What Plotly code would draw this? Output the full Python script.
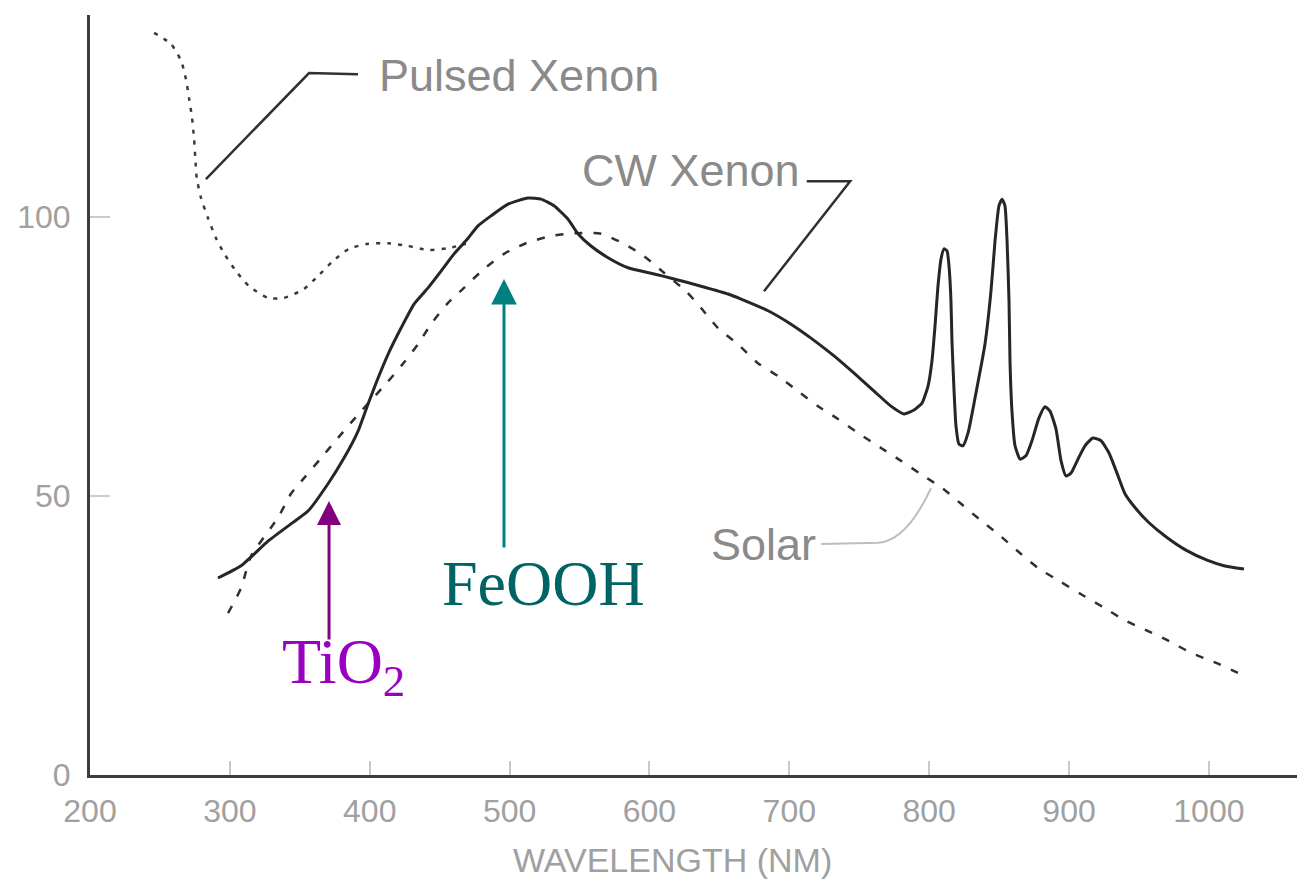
import plotly.graph_objects as go

# ---------------- data (wavelength nm, relative intensity) ----------------
cw_x = [291.5, 308.0, 327.3, 343.7, 355.9, 370.2, 381.6, 391.6, 398.8, 405.9,
        413.1, 422.4, 431.7, 441.7, 451.0, 460.3, 470.3, 477.4, 486.7, 498.9,
        513.2, 522.5, 531.8, 541.8, 548.9, 558.2, 570.4, 584.7, 603.3, 617.6,
        636.9, 656.2, 665.5, 684.8, 701.2, 715.5, 732.0, 746.3, 760.6, 772.7,
        782.0, 789.2, 795.0, 799.2, 802.0, 804.2, 806.3, 808.5, 810.6, 812.8,
        814.2, 815.6, 816.3, 817.8, 819.2, 821.3, 824.2, 827.8, 833.5, 839.9,
        844.2, 847.1, 849.9, 852.1, 854.2, 855.7, 857.1, 857.8, 859.2, 861.4,
        865.0, 869.2, 873.5, 878.5, 882.8, 886.4, 890.7, 894.3, 897.8, 901.4,
        906.4, 911.4, 917.1, 922.9, 928.6, 934.3, 940.0, 947.9, 957.2, 969.3,
        983.6, 998.7, 1010.8, 1025.1]
cw_y = [35.3, 37.5, 41.9, 45.0, 47.3, 52.2, 56.8, 61.6, 66.5, 71.1,
        75.4, 80.1, 84.4, 87.3, 90.3, 93.4, 96.2, 98.4, 100.2, 102.3,
        103.4, 103.2, 102.0, 99.6, 97.0, 94.8, 92.7, 90.9, 89.8, 88.9,
        87.6, 86.2, 85.3, 83.2, 80.8, 78.3, 75.1, 72.0, 68.8, 66.1,
        64.7, 65.4, 66.7, 69.7, 74.2, 80.5, 87.6, 92.5, 94.3, 93.9,
        91.2, 84.9, 77.8, 68.8, 62.5, 59.3, 59.0, 61.3, 68.5, 77.2,
        86.7, 95.7, 102.0, 103.2, 102.0, 95.7, 84.9, 74.2, 65.2, 59.0,
        56.6, 57.2, 59.9, 64.0, 66.0, 65.2, 62.0, 56.3, 53.6, 54.1,
        56.6, 59.0, 60.4, 59.9, 57.7, 54.1, 50.4, 47.7, 45.2, 42.7,
        40.3, 38.5, 37.5, 36.9]

solar_x = [298.7, 308.0, 315.1, 334.4, 343.7, 353.0, 365.2, 377.3, 393.8, 411.6,
           423.8, 434.5, 443.8, 456.0, 467.4, 481.7, 496.0, 511.7, 529.6, 547.5,
           565.4, 581.8, 596.1, 610.4, 626.1, 636.9, 649.0, 663.3, 677.6, 691.9,
           706.2, 720.5, 734.8, 749.1, 765.6, 779.9, 794.2, 809.9, 822.8, 835.6,
           849.2, 865.7, 877.8, 892.8, 908.6, 924.3, 939.3, 956.5, 971.5, 987.2,
           1005.1, 1020.8]
solar_y = [29.0, 33.5, 39.2, 46.1, 50.4, 53.2, 56.8, 60.4, 65.2, 70.1,
           73.7, 77.2, 80.8, 84.6, 87.3, 90.7, 93.4, 95.3, 96.6, 97.1,
           97.0, 95.2, 93.0, 90.0, 86.7, 83.7, 80.1, 77.2, 73.8, 71.5,
           68.8, 66.1, 63.8, 61.3, 58.6, 56.3, 53.9, 51.3, 48.6, 45.9,
           43.2, 39.6, 37.1, 34.8, 32.4, 30.1, 27.8, 25.8, 24.0, 21.9,
           20.1, 18.3]

pulsed_x = [245.8, 257.9, 265.1, 268.6, 270.8, 273.0, 274.4, 275.3, 276.3, 279.4,
            284.4, 290.1, 295.8, 304.4, 313.7, 327.3, 338.7, 353.0, 363.0, 373.7,
            385.2, 398.8, 413.1, 427.4, 441.7, 456.0, 468.8]
pulsed_y = [133.0, 131.0, 128.0, 124.7, 121.3, 117.7, 114.0, 110.6, 107.0, 103.4,
            99.8, 96.2, 93.5, 90.3, 87.6, 85.5, 85.5, 87.1, 89.4, 92.1,
            94.3, 95.2, 95.3, 94.8, 94.1, 94.4, 95.2]

x_ticks = [200, 300, 400, 500, 600, 700, 800, 900, 1000]
y_ticks = [0, 50, 100]

# band-gap markers: wavelength, arrow tip and tail heights
tio2 = {"nm": 370.9, "tip": 49.1, "tail": 24.0}
feooh = {"nm": 496.0, "tip": 88.9, "tail": 40.5}

# ---------------- figure ----------------
fig = go.Figure()

fig.add_trace(go.Scatter(x=pulsed_x, y=pulsed_y, mode="lines",
                         line=dict(color="#3a3a3a", width=2.5, dash="4px,7px", shape="spline", smoothing=0.6),
                         hoverinfo="skip", showlegend=False))
fig.add_trace(go.Scatter(x=solar_x, y=solar_y, mode="lines",
                         line=dict(color="#303030", width=2.5, dash="8px,11px", shape="spline", smoothing=0.6),
                         hoverinfo="skip", showlegend=False))
fig.add_trace(go.Scatter(x=cw_x, y=cw_y, mode="lines",
                         line=dict(color="#262626", width=3, shape="spline", smoothing=0.5),
                         hoverinfo="skip", showlegend=False))

sans = "Liberation Sans, Arial, sans-serif"
serif = "Liberation Serif, Times New Roman, serif"
label_font = dict(family=sans, size=45, color="#8a8a8a")

shapes = [
    dict(type="path", xref="x", yref="y",
         path="M 282.9 106.8 L 356.6 125.8 L 391.6 125.6",
         line=dict(color="#303030", width=2.5)),
    dict(type="path", xref="x", yref="y",
         path="M 712.5 106.4 L 743.5 106.4 L 681.9 86.7",
         line=dict(color="#303030", width=2.5)),
    dict(type="path", xref="x", yref="y",
         path="M 722.7 41.4 L 763.4 41.6 Q 784 42 801.3 51.4",
         line=dict(color="#bdbdbd", width=2)),
]

annotations = [
    dict(x=506.7, y=125.3, xref="x", yref="y", text="Pulsed Xenon", showarrow=False,
         font=label_font, xanchor="center", yanchor="middle"),
    dict(x=629.7, y=108.4, xref="x", yref="y", text="CW Xenon", showarrow=False,
         font=label_font, xanchor="center", yanchor="middle"),
    dict(x=681.2, y=41.3, xref="x", yref="y", text="Solar", showarrow=False,
         font=label_font, xanchor="center", yanchor="middle"),
    dict(x=feooh["nm"], y=feooh["tip"], ax=feooh["nm"], ay=feooh["tail"], xref="x", yref="y",
         axref="x", ayref="y", text="", showarrow=True, arrowhead=2, arrowsize=1.7,
         arrowwidth=3, arrowcolor="#008080"),
    dict(x=tio2["nm"], y=tio2["tip"], ax=tio2["nm"], ay=tio2["tail"], xref="x", yref="y",
         axref="x", ayref="y", text="", showarrow=True, arrowhead=2, arrowsize=1.6,
         arrowwidth=3, arrowcolor="#800080"),
    dict(x=524.6, y=34.4, xref="x", yref="y", text="FeOOH", showarrow=False,
         font=dict(family=serif, size=64, color="#006464"),
         xanchor="center", yanchor="middle"),
    dict(x=381.0, y=19.5, xref="x", yref="y", text="TiO<sub>2</sub>", showarrow=False,
         font=dict(family=serif, size=64, color="#9a00bf"),
         xanchor="center", yanchor="middle"),
    dict(x=(672 - 90) / 1215, y=(775 - 860) / 760, xref="paper", yref="paper",
         text="WAVELENGTH (NM)", showarrow=False,
         font=dict(family=sans, size=34, color="#a0a0a0"), xanchor="center", yanchor="middle"),
]

# the page body adds an 8px offset, so the figure is 8px smaller and margins are shifted
fig.update_layout(
    width=1297, height=874,
    margin=dict(l=82, r=0, t=7, b=107, autoexpand=False),
    paper_bgcolor="white", plot_bgcolor="white",
    shapes=shapes, annotations=annotations,
    showlegend=False,
    xaxis=dict(range=[200, 200 + 1215 / 1.3986], tickvals=x_ticks,
               ticktext=[str(v) for v in x_ticks], automargin=False,
               showgrid=False, zeroline=False, showline=True, linecolor="#3c3c3c", linewidth=3,
               ticks="inside", ticklen=14, tickcolor="#c8c8c8", tickwidth=2,
               tickfont=dict(family=sans, size=32, color="#a0a0a0"),
               ticklabelstandoff=6),
    yaxis=dict(range=[0, 760 / 5.58], tickvals=y_ticks, ticktext=[str(v) for v in y_ticks],
               automargin=False,
               showgrid=False, zeroline=False, showline=True, linecolor="#3c3c3c", linewidth=3,
               ticks="inside", ticklen=20, tickcolor="#cccccc", tickwidth=2,
               tickfont=dict(family=sans, size=32, color="#a0a0a0"),
               ticklabelstandoff=10),
)

fig.write_html("out.html")
